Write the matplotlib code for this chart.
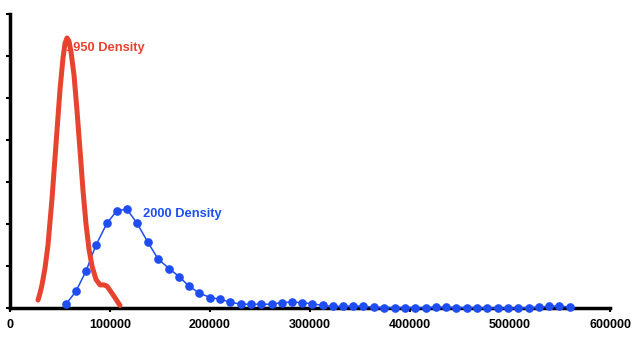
import numpy as np
import matplotlib.pyplot as plt

# income distribution densities (x in dollars, y in arbitrary density units)
x1950 = [28000, 30000, 32000, 35000, 38000, 42000, 46000, 50000, 53000, 55000,
         57000, 59000, 61000, 64000, 67000, 70000, 73000, 76000, 79000, 82000,
         86000, 90000, 94000, 97000, 100000, 104000, 110000]
y1950 = [0.19, 0.35, 0.55, 0.95, 1.5, 2.6, 3.9, 5.2, 5.95, 6.3,
         6.43, 6.35, 6.1, 5.55, 4.7, 3.76, 2.8, 2.0, 1.4, 1.0,
         0.68, 0.55, 0.55, 0.52, 0.42, 0.28, 0.06]

x2000 = [56000, 66000, 76000, 86000, 97000, 107000, 117000, 127000, 138000, 148000,
         159000, 169000, 179000, 189000, 200000, 210000, 220000, 231000, 241000, 251000,
         262000, 272000, 282000, 292000, 302000, 313000, 323000, 333000, 343000, 353000,
         364000, 374000, 385000, 395000, 405000, 416000, 426000, 436000, 446000, 457000,
         467000, 477000, 488000, 498000, 508000, 519000, 529000, 539000, 549000, 560000]
y2000 = [0.09, 0.40, 0.88, 1.50, 2.02, 2.32, 2.35, 2.02, 1.56, 1.17,
         0.94, 0.75, 0.52, 0.36, 0.25, 0.21, 0.14, 0.09, 0.09, 0.09,
         0.09, 0.13, 0.14, 0.13, 0.10, 0.06, 0.04, 0.04, 0.05, 0.04,
         0.02, 0.01, 0.01, 0.01, 0.01, 0.01, 0.02, 0.02, 0.01, 0.01,
         0.01, 0.00, 0.00, 0.00, 0.00, 0.01, 0.02, 0.04, 0.05, 0.02]

xticks = [0, 100000, 200000, 300000, 400000, 500000, 600000]

red = '#E8432E'
blue = '#1E4DF2'

fig = plt.figure(figsize=(6.4, 3.42), dpi=100)
ax = fig.add_axes([10 / 640, 34 / 342, 600 / 640, 294 / 342])

ax.text(56500, 6.19, '1950 Density', color=red, fontsize=9.3, fontweight='bold',
        family='Liberation Sans', va='center', ha='left', zorder=2)
ax.text(133000, 2.245, '2000 Density', color=blue, fontsize=9.3, fontweight='bold',
        family='Liberation Sans', va='center', ha='left', zorder=2)

ax.plot(x2000, y2000, color=blue, lw=1.1, marker='o', ms=5.2, zorder=4, clip_on=False)
ax.plot(x1950, y1950, color=red, lw=3.6, solid_capstyle='round', zorder=5, clip_on=False)

ax.set_xlim(0, 600000)
ax.set_ylim(0, 7)
ax.set_xticks(xticks)
ax.set_xticklabels([str(t) for t in xticks], fontsize=9, fontweight='bold',
                   family='Liberation Sans')
ax.set_yticks(range(8))
ax.set_yticklabels([])

for s in ['top', 'right']:
    ax.spines[s].set_visible(False)
for s in ['left', 'bottom']:
    ax.spines[s].set_linewidth(2.5)
    ax.spines[s].set_zorder(3)
ax.tick_params(axis='both', direction='out', length=3, width=1.5, color='black', pad=5)

fig.savefig('out.png', dpi=100)
